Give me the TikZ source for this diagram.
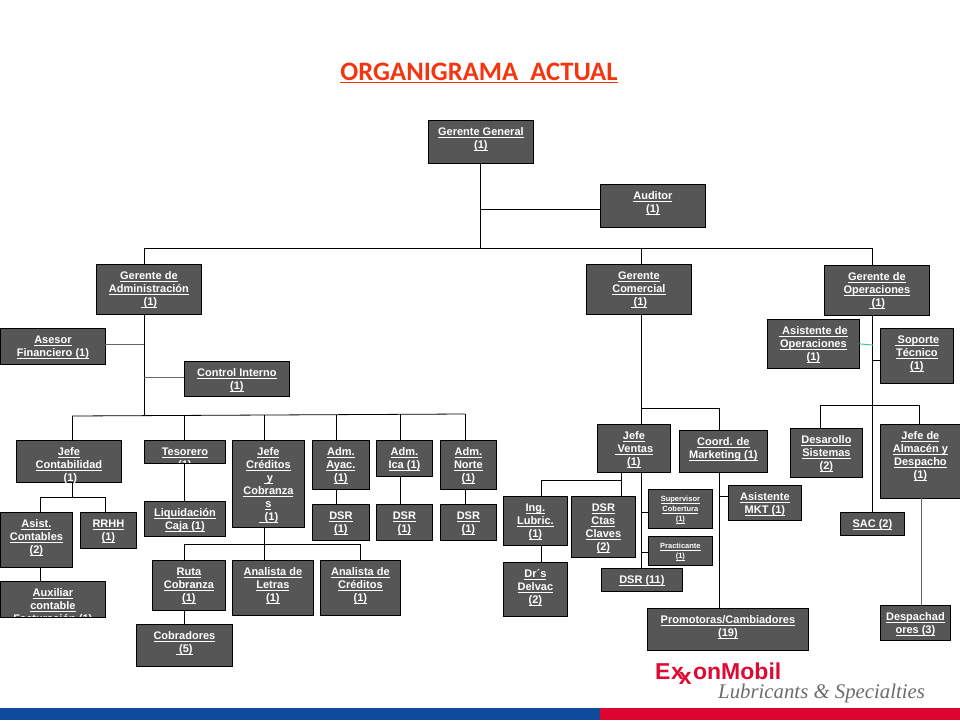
\documentclass[tikz,border=0pt]{standalone}
\usepackage{fontspec}
\setmainfont{Liberation Sans}
\newfontfamily\titulofont{Carlito}
\newfontfamily\lemafont{Liberation Serif}
\definecolor{cajagris}{HTML}{565656}
\definecolor{rojotitulo}{HTML}{F5350F}
\definecolor{rojoexxon}{HTML}{DF0A32}
\definecolor{azulfranja}{HTML}{0F4A9C}
\definecolor{rojofranja}{HTML}{DD0530}
\definecolor{verdelinea}{HTML}{40C8A0}
\newcommand{\rayado}[1]{\leavevmode{\setbox0\hbox{#1}\rlap{\rule[-2pt]{\wd0}{0.8pt}}\box0}}
\newcommand{\caja}[6][]{\node[caja,#1] (#2) at (#3) {\parbox[t][\dimexpr#5pt-0.8pt\relax][t]{\dimexpr#4pt-0.8pt\relax}{\centering\rule{0pt}{\dimexpr\baselineskip+2pt\relax}#6}};}
\tikzset{x=1pt, y=-1pt,
caja/.style={draw=black, fill=cajagris, line width=0.8pt, anchor=north west, xshift=0.4pt, yshift=-0.4pt, inner sep=0pt, text=white, font=\bfseries\fontsize{11}{13}\selectfont},
chica/.style={font=\bfseries\fontsize{7.5}{10}\selectfont},
linea/.style={black, line width=0.8pt},
lineagris/.style={black!60, line width=1pt}}

\begin{document}
\begin{tikzpicture}
\useasboundingbox (0,0) rectangle (960,720);
\node[text=rojotitulo, font=\titulofont\bfseries\fontsize{26.6}{30}\selectfont] (titulo) at (479,73) {\rayado{ORGANIGRAMA\ \ ACTUAL}};

\caja{gerGen}{428,120}{105}{43}{\rayado{Gerente General}\\\rayado{(1)}}
\caja{auditor}{600,184}{105}{43}{\rayado{Auditor}\\\rayado{(1)}}
\caja{gerAdm}{96,264}{105}{50}{\rayado{Gerente de}\\\rayado{Administración}\\\rayado{\ (1)}}
\caja{gerCom}{586,264}{105}{50}{\rayado{Gerente}\\\rayado{Comercial}\\\rayado{\ (1)}}
\caja{gerOpe}{824,265}{105}{50}{\rayado{Gerente de}\\\rayado{Operaciones}\\\rayado{\ (1)}}
\caja{asisOpe}{767,319}{92}{49}{\rayado{\ Asistente de}\\\rayado{Operaciones}\\\rayado{(1)}}
\caja{soporte}{880,328}{73}{55}{\rayado{\ Soporte}\\\rayado{Técnico}\\\rayado{(1)}}
\caja{asesor}{0,328}{105}{36}{\rayado{Asesor}\\\rayado{Financiero (1)}}
\caja{control}{184,361}{105}{35}{\rayado{Control Interno}\\\rayado{(1)}}

\caja{jefeCon}{16,440}{105}{42}{\rayado{Jefe}\\\rayado{Contabilidad}\\\rayado{\ (1)}}
\caja{tesorero}{144,440}{81}{23}{\rayado{Tesorero}\\\rayado{(1)}}
\caja{jefeCre}{232,440}{72}{87}{\rayado{Jefe}\\\rayado{Créditos}\\\rayado{\ y}\\\rayado{Cobranza}\\\rayado{s}\\\rayado{\ \ (1)}}
\caja{admAya}{312,440}{57}{49}{\rayado{Adm.}\\\rayado{Ayac.}\\\rayado{(1)}}
\caja{admIca}{376,440}{56}{36}{\rayado{Adm.}\\\rayado{Ica (1)}}
\caja{admNor}{440,440}{56}{49}{\rayado{Adm.}\\\rayado{Norte}\\\rayado{(1)}}
\caja{dsrAya}{312,504}{57}{36}{\rayado{DSR}\\\rayado{(1)}}
\caja{dsrIca}{376,504}{56}{36}{\rayado{DSR}\\\rayado{(1)}}
\caja{dsrNor}{440,504}{56}{36}{\rayado{DSR}\\\rayado{(1)}}
\caja{liquida}{144,501}{81}{35}{\rayado{Liquidación}\\\rayado{Caja (1)}}
\caja{asisCon}{0,512}{72}{55}{\rayado{Asist.}\\\rayado{Contables}\\\rayado{(2)}}
\caja{rrhh}{80,512}{56}{36}{\rayado{RRHH}\\\rayado{(1)}}
\caja{auxiliar}{0,581}{105}{36}{\rayado{Auxiliar}\\\rayado{contable}\\\rayado{Facturación (1)}}
\caja{ruta}{152,560}{73}{50}{\rayado{Ruta}\\\rayado{Cobranza}\\\rayado{(1)}}
\caja{anaLet}{232,560}{81}{55}{\rayado{Analista de}\\\rayado{Letras}\\\rayado{(1)}}
\caja{anaCre}{320,560}{80}{55}{\rayado{Analista de}\\\rayado{Créditos}\\\rayado{(1)}}
\caja{cobradores}{136,624}{96}{42}{\rayado{Cobradores}\\\rayado{\ (5)}}

\caja{jefeVen}{597,424}{73}{48}{\rayado{Jefe}\\\rayado{\ Ventas}\\\rayado{(1)}}
\caja{coord}{679,430}{88}{42}{\rayado{Coord. de}\\\rayado{Marketing (1)}}
\caja{ingLub}{503,496}{64}{49}{\rayado{Ing.}\\\rayado{Lubric.}\\\rayado{(1)}}
\caja{delvac}{503,562}{64}{54}{\rayado{Dr´s}\\\rayado{Delvac}\\\rayado{(2)}}
\caja{dsrCta}{571,496}{64}{61}{\rayado{DSR}\\\rayado{Ctas}\\\rayado{Claves}\\\rayado{(2)}}
\caja[chica]{superv}{648,489}{64}{39}{\rayado{Supervisor}\\\rayado{Cobertura}\\\rayado{(1)}}
\caja[chica]{practi}{648,536}{64}{29}{\rayado{Practicante}\\\rayado{(1)}}
\caja{dsrOnce}{601,568}{81}{23}{\rayado{DSR (11)}}
\caja{asisMkt}{728,485}{73}{35}{\rayado{Asistente}\\\rayado{MKT (1)}}
\caja{promo}{647,608}{161}{42}{\rayado{Promotoras/Cambiadores}\\\rayado{(19)}}
\caja{desarr}{790,428}{72}{49}{\rayado{Desarollo}\\\rayado{Sistemas}\\\rayado{(2)}}
\caja{jefeAlm}{880,424}{80}{74}{\rayado{Jefe de}\\\rayado{Almacén y}\\\rayado{Despacho}\\\rayado{(1)}}
\caja{sac}{840,512}{64}{23}{\rayado{SAC (2)}}
\caja{despa}{880,605}{70}{35}{\rayado{Despachad}\\\rayado{ores (3)}}

\coordinate (bA) at (144,248);
\coordinate (bC) at (641,248);
\coordinate (bO) at (872,248);
\coordinate (bG) at (480,248);
\coordinate (b1) at (72,416);
\coordinate (b2) at (144,415.6);
\coordinate (b3) at (184,415.4);
\coordinate (b4) at (264,415);
\coordinate (b5) at (336,414.6);
\coordinate (b6) at (400,414.2);
\coordinate (b7) at (465,414);
\coordinate (c1) at (40,497);
\coordinate (c2) at (72,497);
\coordinate (c3) at (105,497);
\coordinate (d1) at (184,544);
\coordinate (d2) at (264,544);
\coordinate (d3) at (360,544);
\coordinate (e1) at (641,408);
\coordinate (e2) at (719,408);
\coordinate (f1) at (541,480);
\coordinate (f2) at (621,480);
\coordinate (g1) at (820,405);
\coordinate (g2) at (872,405);
\coordinate (g3) at (919,405);
\coordinate (h1) at (921,500);
\coordinate (m1) at (719,496);
\coordinate (p1) at (641,512);
\coordinate (p2) at (641,552);
\coordinate (j1) at (144,344);
\coordinate (j2) at (144,377);
\coordinate (k1) at (480,209);
\coordinate (s1) at (872,360);
\coordinate (s2) at (873,345);

\draw[linea] (gerGen.south -| bG) -- (bG);
\draw[linea] (k1) -- (k1 -| auditor.west);
\draw[linea] (bA) -- (bO);
\draw[linea] (bA) -- (bA |- gerAdm.north);
\draw[linea] (bC) -- (bC |- gerCom.north);
\draw[linea] (bO) -- (bO |- gerOpe.north);

\draw[linea] (bA |- gerAdm.south) -- (b2);
\draw[lineagris] (j1) -- (j1 -| asesor.east);
\draw[lineagris] (j2) -- (j2 -| control.west);
\draw[linea] (b1) -- (b7);
\draw[linea] (b1) -- (b1 |- jefeCon.north);
\draw[linea] (b3) -- (b3 |- tesorero.north);
\draw[linea] (b4) -- (b4 |- jefeCre.north);
\draw[linea] (b5) -- (b5 |- admAya.north);
\draw[linea] (b6) -- (b6 |- admIca.north);
\draw[linea] (b7) -- (b7 |- admNor.north);

\draw[linea] (c2 |- jefeCon.south) -- (c2);
\draw[linea] (c1) -- (c3);
\draw[linea] (c1) -- (c1 |- asisCon.north);
\draw[linea] (c3) -- (c3 |- rrhh.north);
\draw[linea] (c1 |- asisCon.south) -- (c1 |- auxiliar.north);
\draw[linea] (b3 |- tesorero.south) -- (b3 |- liquida.north);
\draw[linea] (d2 |- jefeCre.south) -- (d2);
\draw[linea] (d1) -- (d3);
\draw[linea] (d1) -- (d1 |- ruta.north);
\draw[linea] (d2) -- (d2 |- anaLet.north);
\draw[linea] (d3) -- (d3 |- anaCre.north);
\draw[linea] (d1 |- ruta.south) -- (d1 |- cobradores.north);
\draw[linea] (b5 |- admAya.south) -- (b5 |- dsrAya.north);
\draw[linea] (b6 |- admIca.south) -- (b6 |- dsrIca.north);
\draw[linea] (b7 |- admNor.south) -- (b7 |- dsrNor.north);
\draw[linea] (tesorero.south west) -- (tesorero.south east);
\draw[linea] (auxiliar.south west) -- (auxiliar.south east);

\draw[linea] (bC |- gerCom.south) -- (bC |- jefeVen.north);
\draw[linea] (e1) -- (e2) -- (e2 |- coord.north);
\draw[linea] (bC |- jefeVen.south) -- (bC |- dsrOnce.north);
\draw[linea] (f2 |- jefeVen.south) -- (f2 |- dsrCta.north);
\draw[linea] (f2) -- (f1) -- (f1 |- ingLub.north);
\draw[linea] (f1 |- ingLub.south) -- (f1 |- delvac.north);
\draw[linea] (p1) -- (p1 -| superv.west);
\draw[linea] (p2) -- (p2 -| practi.west);
\draw[linea] (e2 |- coord.south) -- (e2 |- promo.north);
\draw[linea] (m1) -- (m1 -| asisMkt.west);

\draw[linea] (bO |- gerOpe.south) -- (bO |- sac.north);
\draw[linea] (s1) -- (s1 -| soporte.west);
\draw[verdelinea, line width=1pt] (asisOpe.east) -- (s2);
\draw[linea] (g2) -- (g1) -- (g1 |- desarr.north);
\draw[linea] (g2) -- (g3) -- (g3 |- jefeAlm.north);
\draw[lineagris] (h1 |- jefeAlm.south) -- (h1 |- despa.north);

\node[anchor=base west, inner sep=0pt, text=rojoexxon, font=\bfseries\fontsize{23}{26}\selectfont] (exxon) at (655,679) {E\kern0.5pt x\kern-5pt\smash{\raisebox{-5pt}{x}}\kern1.5pt onMobil};
\node[anchor=base west, inner sep=0pt, text=black!58, font=\lemafont\itshape\fontsize{20.8}{24}\selectfont] (lema) at (718,698) {Lubricants \& Specialties};
\fill[azulfranja] (0,708) rectangle (600,720);
\fill[rojofranja] (600,708) rectangle (960,720);
\end{tikzpicture}
\end{document}
